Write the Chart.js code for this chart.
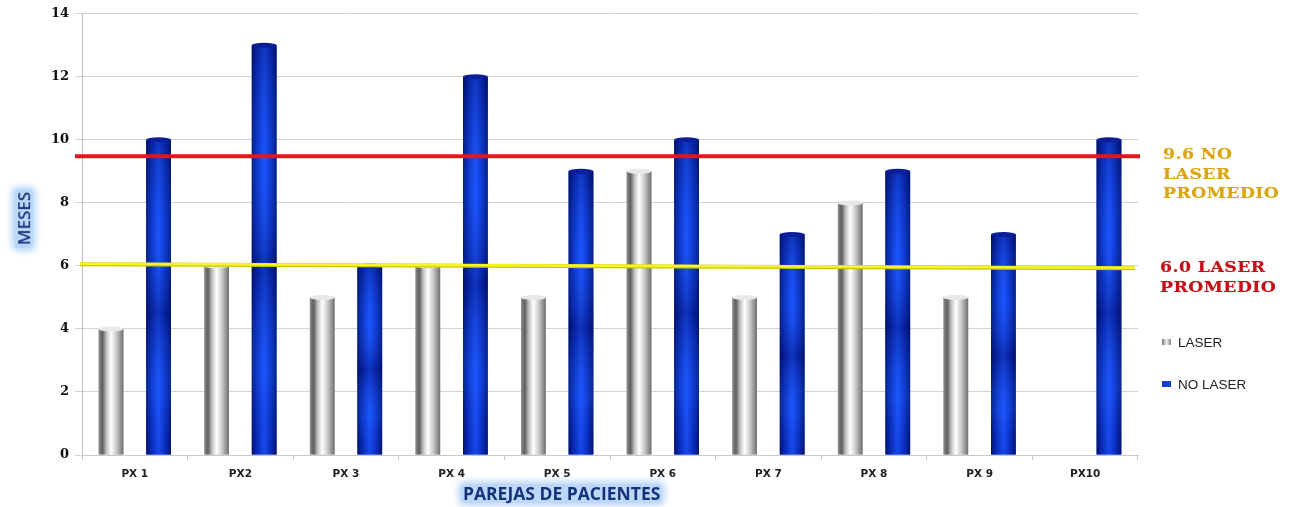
<!DOCTYPE html>
<html>
<head>
<meta charset="utf-8">
<script src="https://cdn.jsdelivr.net/npm/chart.js@4.4.1/dist/chart.umd.min.js"></script>
<style>
  html, body { margin: 0; padding: 0; background: #fff; }
  #wrap { position: relative; width: 1297px; height: 507px; }
  .note { position: absolute; font-family: "DejaVu Serif", serif; font-weight: bold; font-size: 15px; line-height: 19.5px; letter-spacing: 0.4px;
          transform: scaleX(1.15); transform-origin: left top; }
  .gold { color: #d9a514; text-shadow: 0 0 1px #f3d56a; }
  .red { color: #c0121a; text-shadow: 0 0 1px #f08080; }
  .leg { position: absolute; font-family: "Liberation Sans", Arial, sans-serif; font-size: 13.5px; color: #222; }
  .leg span { display: inline-block; width: 9px; height: 6px; margin-right: 7px; vertical-align: 2px; }
  .axt { position: absolute; font-family: "Open Sans", "DejaVu Sans", sans-serif; font-weight: bold; color: #15327a;
         background: rgba(160, 200, 245, 0.7); box-shadow: 0 0 6px 3px rgba(160, 200, 245, 0.7); border-radius: 4px; }
</style>
</head>
<body>
<div id="wrap">
  <canvas id="chart" width="1297" height="507"></canvas>
  <div class="note gold" style="left:1163px; top:145px;">9.6 NO<br>LASER<br>PROMEDIO</div>
  <div class="note red" style="left:1160px; top:258px;">6.0 LASER<br>PROMEDIO</div>
  <div class="leg" style="left:1162px; top:335px;"><span style="background:linear-gradient(90deg,#777,#eee,#888)"></span>LASER</div>
  <div class="leg" style="left:1162px; top:377px;"><span style="background:#1a3fd0"></span>NO LASER</div>
  <div class="axt" style="left:461px; top:484px; font-size:17.5px; line-height:19px; padding:0 2px;">PAREJAS DE PACIENTES</div>
  <div class="axt" style="left:-6px; top:209px; font-size:17px; line-height:19px; padding:0 3px; font-weight:600; transform:rotate(-90deg);">MESES</div>
</div>
<script>
const categories = ['PX 1', 'PX2', 'PX 3', 'PX 4', 'PX 5', 'PX 6', 'PX 7', 'PX 8', 'PX 9', 'PX10'];
const laser = [4, 6, 5, 6, 5, 9, 5, 8, 5, null];
const noLaser = [10, 13, 6, 12, 9, 10, 7, 9, 7, 10];
// average lines as drawn (start value, end value)
const avgNoLaserLine = [9.48, 9.48];
const avgLaserLine = [6.07, 5.94];
const yTicks = [0, 2, 4, 6, 8, 10, 12, 14];

// paint cylinder look over each bar the library laid out
const cylinderPlugin = {
  id: 'cylinder',
  afterDatasetDraw(chart, args) {
    const ctx = chart.ctx;
    const meta = args.meta;
    const isBlue = args.index === 1;
    meta.data.forEach((bar) => {
      const p = bar.getProps(['x', 'y', 'base', 'width'], true);
      if (p.y == null || isNaN(p.y) || p.base - p.y < 1) return;
      const l = p.x - p.width / 2, r = p.x + p.width / 2;
      const g = ctx.createLinearGradient(l, 0, r, 0);
      if (isBlue) {
        g.addColorStop(0, '#00126e');
        g.addColorStop(0.2, '#0a2cc0');
        g.addColorStop(0.5, '#1a50ff');
        g.addColorStop(0.8, '#0a2cc0');
        g.addColorStop(1, '#00126e');
      } else {
        g.addColorStop(0, '#8c8c8c');
        g.addColorStop(0.15, '#5e5e5e');
        g.addColorStop(0.32, '#c4c4c4');
        g.addColorStop(0.5, '#ffffff');
        g.addColorStop(0.7, '#cfcfcf');
        g.addColorStop(1, '#6e6e6e');
      }
      ctx.save();
      ctx.fillStyle = g;
      ctx.fillRect(l, p.y, p.width, p.base - p.y);
      if (isBlue) {
        // vertical light/dark banding
        const v = ctx.createLinearGradient(0, p.y, 0, p.base);
        v.addColorStop(0, 'rgba(0,10,80,0.35)');
        v.addColorStop(0.3, 'rgba(40,120,255,0.15)');
        v.addColorStop(0.55, 'rgba(0,10,90,0.4)');
        v.addColorStop(0.8, 'rgba(40,120,255,0.2)');
        v.addColorStop(1, 'rgba(0,10,80,0.1)');
        ctx.fillStyle = v;
        ctx.fillRect(l, p.y, p.width, p.base - p.y);
      }
      // top cap
      ctx.beginPath();
      ctx.ellipse(p.x, p.y, p.width / 2, 2.5, 0, 0, Math.PI * 2);
      ctx.fillStyle = isBlue ? '#0b1f9a' : '#e8e8e8';
      ctx.fill();
      ctx.restore();
    });
  }
};

// average lines drawn with the y scale
const avgPlugin = {
  id: 'avgLines',
  afterDatasetsDraw(chart) {
    const ctx = chart.ctx;
    const y = chart.scales.y;
    const a = chart.chartArea;
    ctx.save();
    ctx.lineCap = 'butt';
    ctx.strokeStyle = '#e1171c';
    ctx.lineWidth = 4;
    ctx.beginPath();
    ctx.moveTo(a.left - 7, y.getPixelForValue(avgNoLaserLine[0]));
    ctx.lineTo(a.right + 2, y.getPixelForValue(avgNoLaserLine[1]));
    ctx.stroke();
    ctx.strokeStyle = '#c8c800';
    ctx.lineWidth = 4;
    ctx.beginPath();
    ctx.moveTo(a.left - 2, y.getPixelForValue(avgLaserLine[0]) + 0.5);
    ctx.lineTo(a.right - 3, y.getPixelForValue(avgLaserLine[1]) + 0.5);
    ctx.stroke();
    ctx.strokeStyle = '#f5f52a';
    ctx.lineWidth = 2.5;
    ctx.beginPath();
    ctx.moveTo(a.left - 2, y.getPixelForValue(avgLaserLine[0]));
    ctx.lineTo(a.right - 3, y.getPixelForValue(avgLaserLine[1]));
    ctx.stroke();
    ctx.restore();
  }
};

new Chart(document.getElementById('chart'), {
  type: 'bar',
  data: {
    labels: categories,
    datasets: [
      { label: 'LASER', data: laser, backgroundColor: '#bbbbbb', categoryPercentage: 0.9, barPercentage: 0.52 },
      { label: 'NO LASER', data: noLaser, backgroundColor: '#1a3fd0', categoryPercentage: 0.9, barPercentage: 0.52 }
    ]
  },
  options: {
    responsive: false,
    animation: false,
    layout: { padding: { top: 11, right: 159, left: 0, bottom: 0 } },
    plugins: { legend: { display: false }, tooltip: { enabled: false } },
    scales: {
      x: {
        grid: { display: true, drawOnChartArea: false, tickLength: 5, color: '#c8c8c8', offset: true },
        border: { color: '#c8c8c8' },
        ticks: { color: '#222', font: { family: 'DejaVu Sans', weight: 'bold', size: 10.5 }, padding: 8 },
        afterFit: (s) => { s.height = 52; }
      },
      y: {
        min: 0,
        max: 14,
        afterBuildTicks: (s) => { s.ticks = yTicks.map((v) => ({ value: v })); },
        grid: { color: '#d4d4d4', tickLength: 7 },
        border: { color: '#bdbdbd' },
        ticks: { color: '#111', font: { family: 'DejaVu Serif', weight: 'bold', size: 13 }, padding: 6 },
        afterFit: (s) => { s.width = 82; }
      }
    }
  },
  plugins: [cylinderPlugin, avgPlugin]
});
</script>
</body>
</html>
